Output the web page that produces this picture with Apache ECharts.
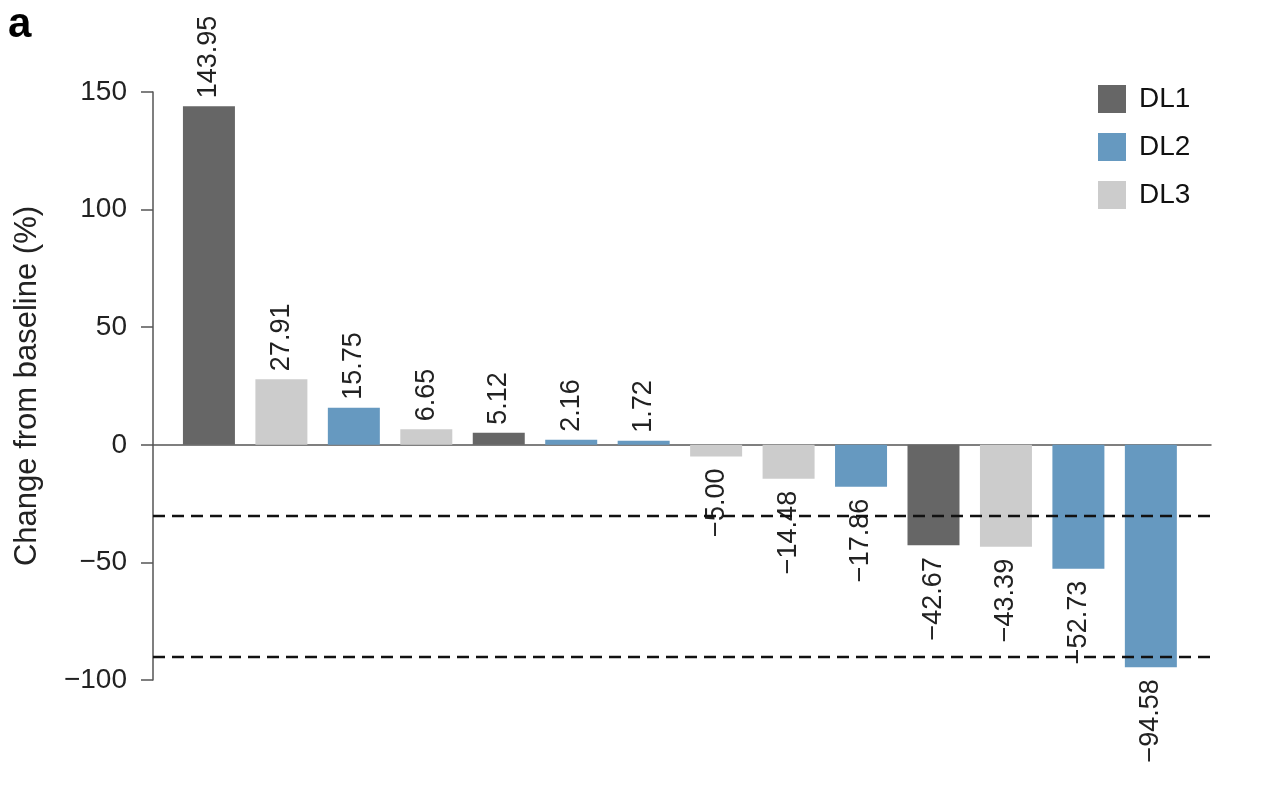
<!DOCTYPE html>
<html>
<head>
<meta charset="utf-8">
<script src="https://cdn.jsdelivr.net/npm/echarts@6/dist/echarts.min.js"></script>
<style>
html,body{margin:0;padding:0;background:#fff;}
#c{width:1267px;height:789px;}
</style>
</head>
<body>
<div id="c"></div>
<script>
const values = [143.95, 27.91, 15.75, 6.65, 5.12, 2.16, 1.72, -5.00, -14.48, -17.86, -42.67, -43.39, -52.73, -94.58];
const groups = ['DL1','DL3','DL2','DL3','DL1','DL2','DL2','DL3','DL3','DL2','DL1','DL3','DL2','DL2'];
const groupNames = ['DL1','DL2','DL3'];
const groupColors = {DL1:'#666666', DL2:'#6699c0', DL3:'#cccccc'};
const thresholds = [-30, -90];
const yTicks = {min:-100, max:150, interval:50};

const FONT = '"Liberation Sans", Arial, sans-serif';
const fmt = v => v.toFixed(2).replace('-', '\u2212');

const series = groupNames.map((g, gi) => ({
  name: g,
  type: 'bar',
  barWidth: 52,
  barGap: '-100%',
  itemStyle: {color: groupColors[g]},
  data: values.map((v, i) => groups[i] === g ? {
    value: [i, v],
    label: v >= 0
      ? {position: 'top', align: 'left', distance: 8}
      : {position: 'bottom', align: 'right', distance: 12}
  } : null).filter(d => d),
  label: {
    show: true,
    rotate: 90,
    verticalAlign: 'middle',
    fontFamily: FONT,
    fontSize: 27,
    color: '#222',
    formatter: p => fmt(p.value[1])
  },
  markLine: gi === 0 ? {
    silent: true,
    symbol: 'none',
    label: {show: false},
    lineStyle: {color: '#111', type: [12, 7], width: 2.4},
    data: thresholds.map(t => ({yAxis: t}))
  } : undefined,
  z: 2
}));

const chart = echarts.init(document.getElementById('c'));
chart.setOption({
  animation: false,
  backgroundColor: '#fff',
  graphic: [{
    type: 'text', left: 8, top: 4,
    style: {text: 'a', fontFamily: FONT, fontWeight: 900, fontSize: 42, fill: '#000'}
  }],
  legend: {
    orient: 'vertical',
    left: 1093, top: 80,
    itemWidth: 28, itemHeight: 28, itemGap: 20,
    icon: 'rect',
    textStyle: {fontFamily: FONT, fontSize: 28, color: '#111', padding: [0,0,0,8]},
    data: groupNames
  },
  grid: {left: 153, right: 56, top: 92, bottom: 109, containLabel: false},
  xAxis: {
    type: 'value',
    min: -0.772, max: 13.83,
    axisLine: {show: true, onZero: true, lineStyle: {color: '#555', width: 1.5}},
    axisTick: {show: false},
    axisLabel: {show: false},
    splitLine: {show: false}
  },
  yAxis: {
    type: 'value',
    min: yTicks.min, max: yTicks.max, interval: yTicks.interval,
    name: 'Change from baseline (%)',
    nameLocation: 'middle',
    nameGap: 110,
    nameTextStyle: {fontFamily: FONT, fontSize: 31, color: '#222'},
    axisLine: {show: true, onZero: false, lineStyle: {color: '#555', width: 1.5}},
    axisTick: {show: true, length: 12, lineStyle: {color: '#555', width: 1.5}},
    axisLabel: {
      fontFamily: FONT, fontSize: 28, color: '#222', margin: 26,
      formatter: v => String(v).replace('-', '\u2212')
    },
    splitLine: {show: false}
  },
  series: series
});
</script>
</body>
</html>
